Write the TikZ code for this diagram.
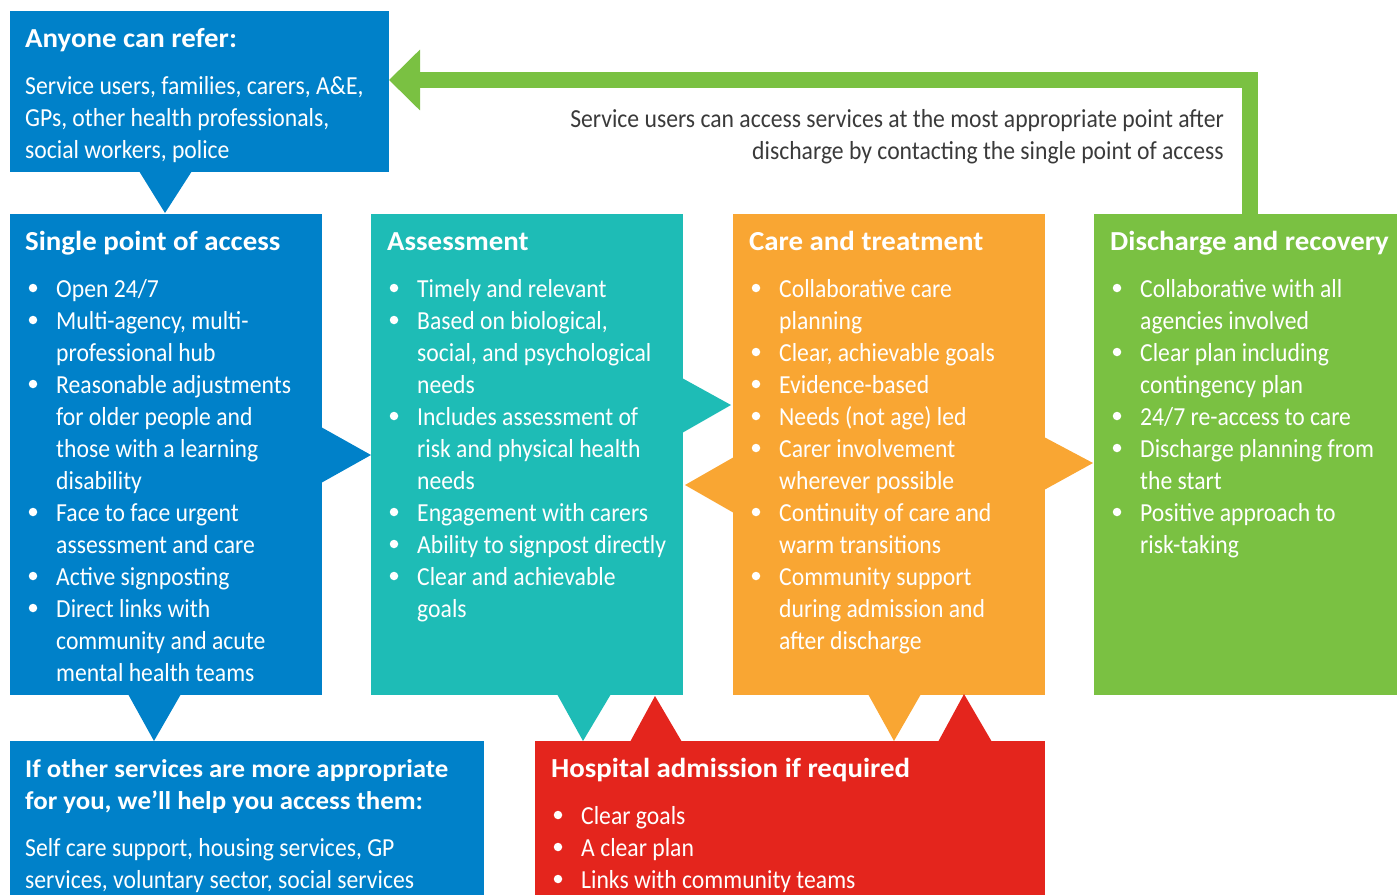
\documentclass[tikz,border=0pt]{standalone}
\usepackage{fontspec}
\setmainfont{Carlito}[FakeStretch=0.91]
\newfontfamily\ttlfont{Carlito}[FakeStretch=1.05]
\usetikzlibrary{arrows.meta,calc}
\definecolor{cblue}{HTML}{0081C9}
\definecolor{cteal}{HTML}{1EBCB6}
\definecolor{corange}{HTML}{F9A633}
\definecolor{cgreen}{HTML}{7AC142}
\definecolor{cred}{HTML}{E4251D}
\definecolor{cgray}{HTML}{3A3A3A}
\begin{document}
\begin{tikzpicture}[x=1pt,y=-1pt,
  box/.style={anchor=north west, inner sep=0pt, outer sep=0pt, draw=none},
  ttl/.style={anchor=base west, inner sep=0pt, font=\ttlfont\fontsize{27.5}{32}\selectfont\bfseries, text=white},
  sttl/.style={ttl, font=\ttlfont\fontsize{25.6}{32}\selectfont\bfseries},
  txt/.style={anchor=base west, inner sep=0pt, font=\fontsize{26}{32}\selectfont, text=white},
  gtxt/.style={anchor=base east, inner sep=0pt, font=\fontsize{26}{32}\selectfont, text=cgray},
  dot/.style={circle, fill=white, inner sep=0pt, minimum size=8.5pt},
  garrow/.style={draw=cgreen, line width=16pt, -{Triangle[length=31pt,width=59pt]}},
]
\useasboundingbox (0,0) rectangle (1397,895);
% boxes
\node[box, fill=cblue, minimum width=379pt, minimum height=161pt] (ref) at (10,11) {};
\node[box, fill=cblue, minimum width=312pt, minimum height=481pt] (spa) at (10,214) {};
\node[box, fill=cteal, minimum width=312pt, minimum height=481pt] (ass) at (371,214) {};
\node[box, fill=corange, minimum width=312pt, minimum height=481pt] (care) at (733,214) {};
\node[box, fill=cgreen, minimum width=303pt, minimum height=481pt] (dis) at (1094,214) {};
\node[box, fill=cblue, minimum width=474pt, minimum height=154pt] (oth) at (10,741) {};
\node[box, fill=cred, minimum width=510pt, minimum height=154pt] (hosp) at (535,741) {};
% pointers
\fill[cblue] (139,171) -- (192,171) -- (165,213) -- cycle;
\fill[cblue] (321,427) -- (371,455) -- (321,483) -- cycle;
\fill[cblue] (128,694) -- (181,694) -- (154,741) -- cycle;
\fill[cteal] (682,378) -- (731,405) -- (682,433) -- cycle;
\fill[cteal] (557,694) -- (611,694) -- (583,741) -- cycle;
\fill[corange] (734,457) -- (685,485) -- (734,513) -- cycle;
\fill[corange] (1044,437) -- (1093,463) -- (1044,490) -- cycle;
\fill[corange] (868,694) -- (921,694) -- (894,741) -- cycle;
\fill[cred] (630,742) -- (682,742) -- (655,696) -- cycle;
\fill[cred] (938,742) -- (992,742) -- (964,694) -- cycle;
% return arrow
\coordinate (disout) at (1250,214);
\coordinate (reftip) at (389,80);
\draw[garrow] (disout) |- (reftip);
\node[gtxt] (note1) at (1224,127) {Service users can access services at the most appropriate point after};
\node[gtxt] (note2) at (1224,159) {discharge by contacting the single point of access};
% anyone can refer
\node[ttl] (ref-t) at (25,47) {Anyone can refer:};
\foreach \t [count=\i from 0] in {{Service users, families, carers, A\&E,},{GPs, other health professionals,},{social workers, police}}
  \node[txt] (ref-\i) at (25,{94+32*\i}) {\t};
% single point of access
\node[ttl] (spa-t) at (25,250) {Single point of access};
\foreach \t [count=\i from 0] in {{Open 24/7},{Multi-agency, multi-},{professional hub},{Reasonable adjustments},{for older people and},{those with a learning},{disability},{Face to face urgent},{assessment and care},{Active signposting},{Direct links with},{community and acute},{mental health teams}}
  \node[txt] (spa-\i) at (56,{297+32*\i}) {\t};
\foreach \i in {0,1,3,7,9,10}
  \node[dot] (spa-b\i) at (33,{288+32*\i}) {};
% assessment
\node[ttl] (ass-t) at (387,250) {Assessment};
\foreach \t [count=\i from 0] in {{Timely and relevant},{Based on biological,},{social, and psychological},{needs},{Includes assessment of},{risk and physical health},{needs},{Engagement with carers},{Ability to signpost directly},{Clear and achievable},{goals}}
  \node[txt] (ass-\i) at (417,{297+32*\i}) {\t};
\foreach \i in {0,1,4,7,8,9}
  \node[dot] (ass-b\i) at (394,{288+32*\i}) {};
% care and treatment
\node[ttl] (care-t) at (749,250) {Care and treatment};
\foreach \t [count=\i from 0] in {{Collaborative care},{planning},{Clear, achievable goals},{Evidence-based},{Needs (not age) led},{Carer involvement},{wherever possible},{Continuity of care and},{warm transitions},{Community support},{during admission and},{after discharge}}
  \node[txt] (care-\i) at (779,{297+32*\i}) {\t};
\foreach \i in {0,2,3,4,5,7,9}
  \node[dot] (care-b\i) at (756,{288+32*\i}) {};
% discharge
\node[ttl] (dis-t) at (1110,250) {Discharge and recovery};
\foreach \t [count=\i from 0] in {{Collaborative with all},{agencies involved},{Clear plan including},{contingency plan},{24/7 re-access to care},{Discharge planning from},{the start},{Positive approach to},{risk-taking}}
  \node[txt] (dis-\i) at (1140,{297+32*\i}) {\t};
\foreach \i in {0,2,4,5,7}
  \node[dot] (dis-b\i) at (1117,{288+32*\i}) {};
% other services
\node[sttl] (oth-t0) at (25,777) {If other services are more appropriate};
\node[sttl] (oth-t1) at (25,809) {for you, we’ll help you access them:};
\node[txt] (oth-0) at (25,856) {Self care support, housing services, GP};
\node[txt] (oth-1) at (25,888) {services, voluntary sector, social services};
% hospital
\node[ttl] (hosp-t) at (551,777) {Hospital admission if required};
\foreach \t [count=\i from 0] in {{Clear goals},{A clear plan},{Links with community teams}}
  \node[txt] (hosp-\i) at (581,{824+32*\i}) {\t};
\foreach \i in {0,1,2}
  \node[dot] (hosp-b\i) at (558,{815+32*\i}) {};
\end{tikzpicture}
\end{document}
